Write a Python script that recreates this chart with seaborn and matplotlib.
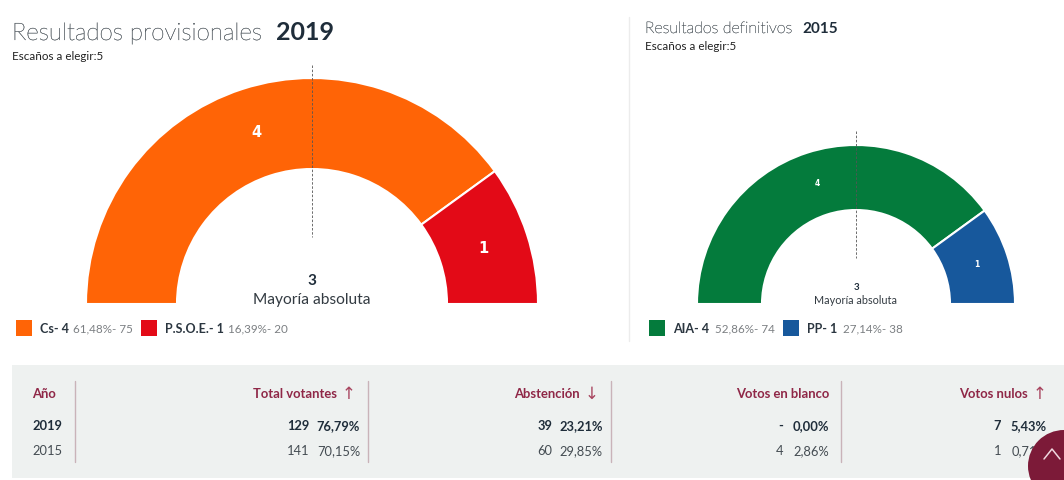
import matplotlib
matplotlib.use('Agg')
import matplotlib.pyplot as plt
import matplotlib.patheffects as pe
import seaborn as sns
from matplotlib.patches import Circle, Rectangle

seats_2019 = [4, 1]
seats_2015 = [4, 1]
colors_2019 = ['#ff6406', '#e30a17']
colors_2015 = ['#047b3c', '#17589c']
parties_2019 = ['Cs- 4', 'P.S.O.E.- 1']
details_2019 = ['61,48%- 75', '16,39%- 20']
parties_2015 = ['AIA- 4', 'PP- 1']
details_2015 = ['52,86%- 74', '27,14%- 38']
table_header = ['Total votantes', 'Abstención', 'Votos en blanco', 'Votos nulos']
table_arrows = ['↑', '↓', '', '↑']
row_2019 = [('129', '76,79%'), ('39', '23,21%'), ('-', '0,00%'), ('7', '5,43%')]
row_2015 = [('141', '70,15%'), ('60', '29,85%'), ('4', '2,86%'), ('1', '0,71%')]

DARK = '#1f2d3a'
GREY = '#7b7f82'
WINE = '#8f2747'
TITLE = '#565e64'

sns.set_theme(style='white')
plt.rcParams['font.family'] = ['Lato', 'DejaVu Sans']

fig = plt.figure(figsize=(10.64, 4.8), dpi=100)
ax = fig.add_axes([0, 0, 1, 1])


def py(y):
    # the layout was measured from the top of the image
    return 480 - y


def draw_gauge(seats, colors, cx, base, radius, inner, label_size):
    total = sum(seats)
    wedges, texts = ax.pie(seats + [total], colors=colors + ['none'], startangle=180, counterclock=False,
                           center=(cx, py(base)), radius=radius, labels=[str(s) for s in seats] + [''],
                           labeldistance=(radius + inner) / 2 / radius,
                           wedgeprops={'width': radius - inner, 'edgecolor': 'white', 'linewidth': 1.5},
                           textprops={'color': 'white', 'fontweight': 'bold', 'fontsize': label_size,
                                      'family': 'DejaVu Sans'})
    wedges[-1].set_visible(False)
    for t in texts:
        t.set_ha('center')
        t.set_va('center')


draw_gauge(seats_2019, colors_2019, 312, 304, 226, 135, 10.5)
draw_gauge(seats_2015, colors_2015, 856, 304, 159, 94, 5.5)
ax.set_aspect('auto')
ax.set_xlim(0, 1064)
ax.set_ylim(0, 480)
ax.axis('off')

# majority marker
ax.plot([312, 312], [py(65), py(237)], color='#555555', lw=0.6, ls=(0, (3, 2)))
ax.plot([856, 856], [py(131), py(258)], color='#555555', lw=0.6, ls=(0, (3, 2)))
ax.plot([629, 629], [py(17), py(341)], color='#ececec', lw=1)

# titles, the light face comes out too faint without a hairline stroke
thicken = [pe.withStroke(linewidth=0.2, foreground=TITLE)]
ax.text(12, py(33.5), 'Resultados provisionales', fontsize=17.4, fontweight='light', color=TITLE, va='center',
        path_effects=thicken)
ax.text(276, py(33), '2019', fontsize=18, fontweight='bold', color=DARK, va='center')
ax.text(12, py(57), 'Escaños a elegir:5', fontsize=8.4, color='#222222', va='center')
ax.text(645, py(29), 'Resultados definitivos', fontsize=11.5, fontweight='light', color=TITLE, va='center',
        path_effects=thicken)
ax.text(802, py(29), '2015', fontsize=11, fontweight='bold', color=DARK, va='center')
ax.text(645, py(46), 'Escaños a elegir:5', fontsize=8.4, color='#222222', va='center')

# majority labels
ax.text(312, py(281), '3', fontsize=11, fontweight='bold', color=DARK, ha='center', va='center')
ax.text(312, py(300), 'Mayoría absoluta', fontsize=11.2, color='#333b42', ha='center', va='center')
ax.text(856, py(288), '3', fontsize=7, fontweight='bold', color=DARK, ha='center', va='center')
ax.text(856, py(301), 'Mayoría absoluta', fontsize=7.8, color='#333b42', ha='center', va='center')


def draw_legend(xs, colors, parties, details):
    for (x_box, x_name, x_detail), color, party, detail in zip(xs, colors, parties, details):
        ax.add_patch(Rectangle((x_box, py(336)), 16, 16, facecolor=color, edgecolor='none'))
        ax.text(x_name, py(329), party, fontsize=9, fontweight='bold', color='#2b3640', va='center')
        ax.text(x_detail, py(329), detail, fontsize=8.4, color=GREY, va='center')


draw_legend([(16, 40, 73), (141, 165, 228)], colors_2019, parties_2019, details_2019)
draw_legend([(649, 673, 715), (783, 807, 843)], colors_2015, parties_2015, details_2015)

# table
ax.add_patch(Rectangle((12, py(478)), 1052, 113, facecolor='#eef1f0', edgecolor='none'))
for x in [75, 368, 611, 841]:
    ax.plot([x, x], [py(381), py(462)], color='#c9b3b9', lw=1)
ax.text(32, py(394), 'Año', fontsize=9.4, fontweight='bold', color=WINE, va='center')
ax.text(32, py(426), '2019', fontsize=9.3, fontweight='bold', color=DARK, va='center')
ax.text(32, py(451), '2015', fontsize=9.3, color='#444c52', va='center')

header_right = [337, 580, 829, 1028]
arrow_x = [349, 592, 0, 1040]
count_right = [309, 552, 783, 1001]
pct_right = [360, 603, 829, 1047]
for i in range(4):
    ax.text(header_right[i], py(394), table_header[i], fontsize=9.4, fontweight='bold', color=WINE,
            ha='right', va='center')
    if table_arrows[i]:
        ax.text(arrow_x[i], py(394), table_arrows[i], fontsize=12, color='#a8455f', family='DejaVu Sans',
                ha='center', va='center')
    for y, row, weight, color in [(426, row_2019, 'bold', DARK), (451, row_2015, 'normal', '#444c52')]:
        ax.text(count_right[i], py(y), row[i][0], fontsize=9.3, fontweight=weight, color=color, ha='right', va='center')
        ax.text(pct_right[i], py(y), row[i][1], fontsize=9.3, fontweight=weight, color=color, ha='right', va='center')

# scroll-to-top button
ax.add_patch(Circle((1064, py(466)), 36, facecolor='#7c1a38', edgecolor='none', zorder=5))
ax.plot([1044, 1052, 1060], [py(459), py(449), py(459)], color='#f0d8df', lw=1.1, zorder=6)

fig.savefig('out.png', dpi=100)
